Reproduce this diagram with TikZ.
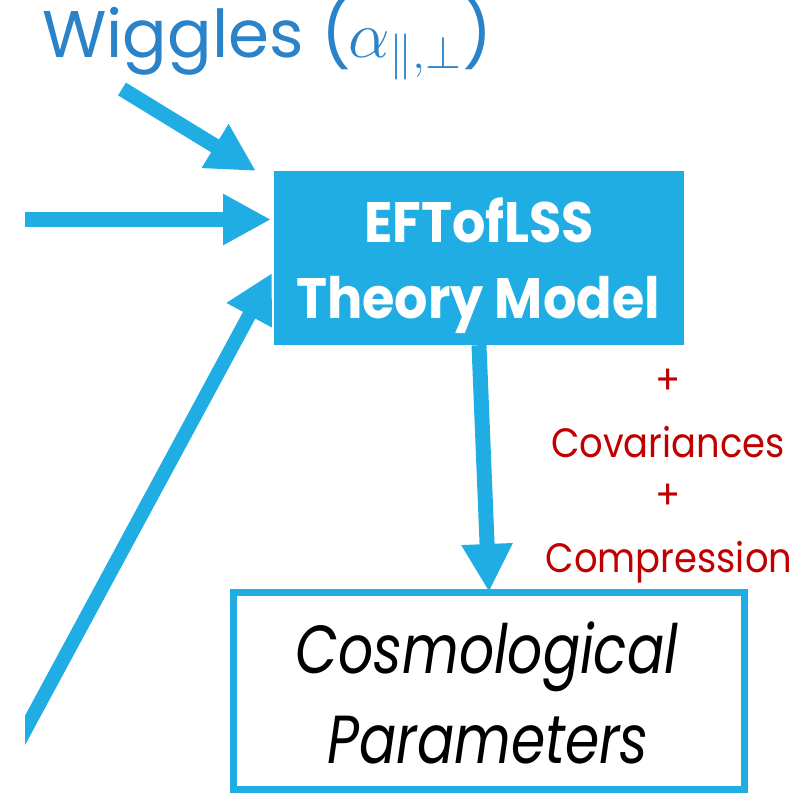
\documentclass[tikz,border=0pt]{standalone}
\usepackage{fix-cm}
\usepackage{fontspec}
\setmainfont{Poppins}
\newfontfamily\eftfont[FakeStretch=0.92]{Poppins}
\newfontfamily\redfont[FakeStretch=0.9]{Poppins}
\newfontfamily\cosmofont[FakeStretch=0.81]{Poppins}
\usetikzlibrary{arrows.meta}
\definecolor{boxblue}{RGB}{31,173,228}
\definecolor{wigblue}{RGB}{42,130,200}
\definecolor{darkred}{RGB}{192,0,0}
\tikzset{
  fatarrow/.style={line width=15pt, draw=boxblue, -{Triangle[length=48pt,width=48pt]}},
  redtext/.style={text=darkred, font=\redfont\fontsize{41}{41}\selectfont, inner sep=0pt, anchor=base},
  efttext/.style={text=white, font=\eftfont\bfseries\fontsize{57}{57}\selectfont, inner sep=0pt, anchor=base},
  cosmotext/.style={text=black, font=\cosmofont\itshape\fontsize{68}{68}\selectfont, inner sep=0pt, anchor=base},
}
\begin{document}
\begin{tikzpicture}[x=1pt,y=-1pt]
\useasboundingbox (0,0) rectangle (802,795);
% boxes
\node[fill=boxblue, minimum width=410pt, minimum height=174pt, inner sep=0pt] (eft) at (479,258) {};
\node[draw=boxblue, line width=7pt, fill=white, minimum width=511pt, minimum height=197pt, inner sep=0pt] (cosmo) at (489,691) {};
% texts
\node[anchor=base west, inner sep=0pt, text=wigblue, font=\fontsize{66}{66}\selectfont] (wig) at (42,57) {Wiggles (\kern-3pt$\alpha_{\parallel,\perp}$\kern1pt)};
\node[efttext] (eft1) at (479,242) {EFTofLSS};
\node[efttext] (eft2) at (478,318) {Theory Model};
\node[cosmotext] (cos1) at (487,673) {Cosmological};
\node[cosmotext] (cos2) at (488,763) {Parameters};
\node[redtext] (p1) at (668,394) {+};
\node[redtext] (cov) at (668,457) {Covariances};
\node[redtext] (p2) at (668,509) {+};
\node[redtext] (comp) at (669,572) {Compression};
% arrows
\coordinate (w0) at (122,89);
\coordinate (wt) at (256,171);
\coordinate (h0) at (5,219.5);
\coordinate (ht) at (271,219.5);
\coordinate (d0) at (9,760);
\coordinate (dt) at (272,273);
\begin{scope}
\clip (25,0) rectangle (802,795);
\draw[fatarrow] (w0) -- (wt);
\draw[fatarrow] (h0) -- (ht);
\draw[fatarrow, line width=14pt] (d0) -- (dt);
\end{scope}
\draw[fatarrow] (eft.south) -- ([yshift=-3pt]cosmo.north);
\end{tikzpicture}
\end{document}
